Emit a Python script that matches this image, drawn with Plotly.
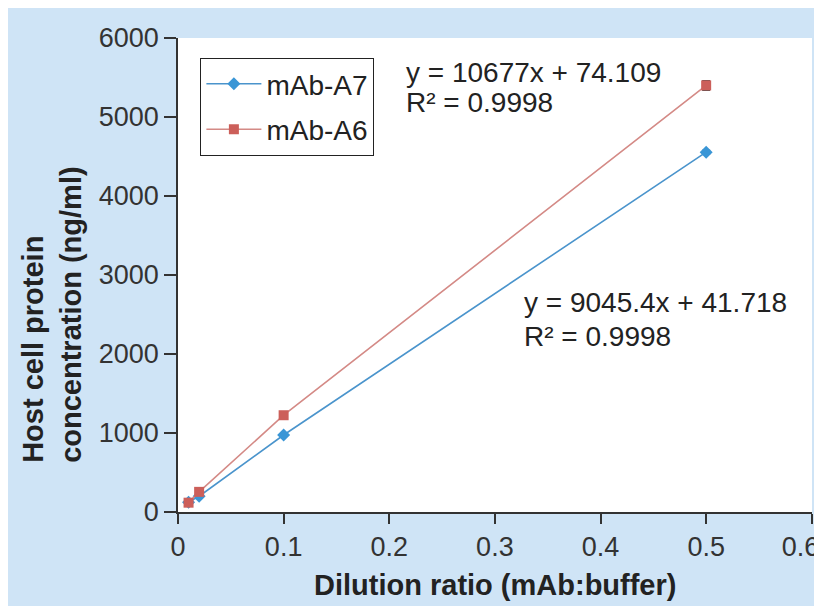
import plotly.graph_objects as go

dilution = [0.01, 0.02, 0.1, 0.5]
a7_values = [125, 200, 975, 4555]
a7_err = [10, 10, 15, 20]
a6_values = [118, 255, 1225, 5400]
a6_err = [15, 15, 20, 55]

x_ticks = [0, 0.1, 0.2, 0.3, 0.4, 0.5, 0.6]
x_tick_text = ["0", "0.1", "0.2", "0.3", "0.4", "0.5", "0.6\u00a0\u00a0\u00a0"]
y_ticks = [0, 1000, 2000, 3000, 4000, 5000, 6000]

eq_a6 = ["y = 10677x + 74.109", "R² = 0.9998"]
eq_a7 = ["y = 9045.4x + 41.718", "R² = 0.9998"]

FONT = "Liberation Sans, Arial, Helvetica, sans-serif"
BG = "rgb(207,228,246)"

fig = go.Figure()
fig.add_trace(go.Scatter(
    x=dilution, y=a7_values, name="mAb-A7", mode="lines+markers",
    line=dict(color="#4a94cc", width=1.6),
    marker=dict(symbol="diamond", size=10, color="#3a96d6"),
    error_y=dict(type="data", array=a7_err, color="#111", thickness=1.8, width=4),
    legendgroup="a", legendrank=1,
))
fig.add_trace(go.Scatter(
    x=dilution, y=a6_values, name="mAb-A6", mode="lines+markers",
    line=dict(color="#d48a86", width=1.6),
    marker=dict(symbol="square", size=10, color="#cc5f5a"),
    error_y=dict(type="data", array=a6_err, color="#111", thickness=1.8, width=4),
    legendgroup="b", legendrank=2,
))

annotations = []
for i, t in enumerate(eq_a6):
    annotations.append(dict(text=t, xref="paper", yref="paper", x=0.357, y=[0.928, 0.863][i],
                            xanchor="left", yanchor="middle", showarrow=False,
                            font=dict(size=28, color="#222", family=FONT)))
for i, t in enumerate(eq_a7):
    annotations.append(dict(text=t, xref="paper", yref="paper", x=0.542, y=[0.443, 0.371][i],
                            xanchor="left", yanchor="middle", showarrow=False,
                            font=dict(size=28, color="#222", family=FONT)))
annotations.append(dict(text="<b>Host cell protein<br>concentration (ng/ml)</b>", xref="paper", yref="paper",
                        x=-0.199, y=0.4156, xanchor="center", yanchor="middle", textangle=-90,
                        align="left", showarrow=False,
                        font=dict(size=29, color="#222", family=FONT)))
annotations.append(dict(text="<b>Dilution ratio (mAb:buffer)</b>", xref="paper", yref="paper",
                        x=0.5, y=-0.154, xanchor="center", yanchor="middle", showarrow=False,
                        font=dict(size=29, color="#222", family=FONT)))

fig.update_layout(
    width=822, height=606,
    margin=dict(l=170, r=18, t=30, b=102, autoexpand=False),
    paper_bgcolor=BG, plot_bgcolor="white",
    font=dict(family=FONT, color="#333"),
    showlegend=True,
    legend=dict(x=0.035, y=0.958, xanchor="left", yanchor="top",
                bgcolor="white", bordercolor="#222", borderwidth=1.2,
                font=dict(size=28, color="#222", family=FONT),
                itemwidth=55, tracegroupgap=6, traceorder="grouped"),
    annotations=annotations,
)
fig.update_xaxes(range=[0, 0.6002], tickvals=x_ticks, ticktext=x_tick_text, showgrid=False, zeroline=False,
                 automargin=False,
                 showline=True, linecolor="#333", linewidth=1.5, ticks="outside", ticklen=10,
                 tickcolor="#333", tickwidth=1.5, ticklabeloverflow="allow",
                 tickfont=dict(size=27, color="#333", family=FONT))
fig.update_yaxes(range=[0, 6000], tickvals=y_ticks, showgrid=False, zeroline=False,
                 automargin=False,
                 showline=True, linecolor="#333", linewidth=1.5, ticks="outside", ticklen=12,
                 tickcolor="#333", tickwidth=1.5, tickfont=dict(size=27, color="#333", family=FONT))

fig.write_html("out.html")
